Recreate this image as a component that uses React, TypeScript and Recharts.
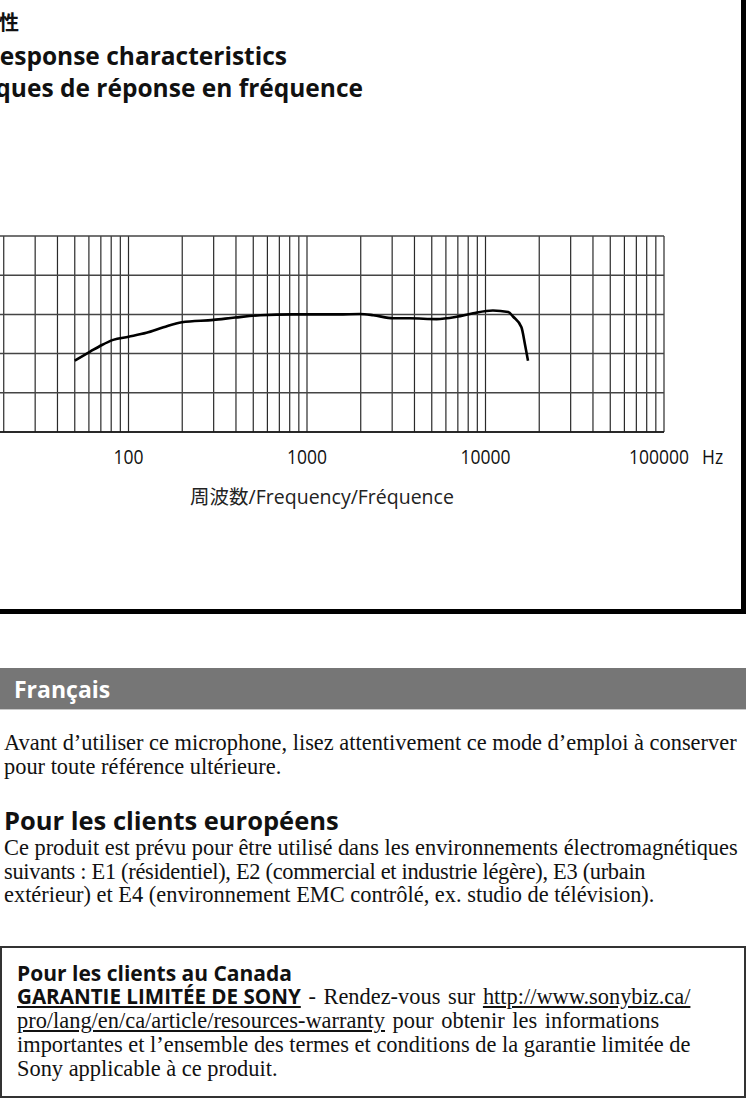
import { CartesianGrid, Label, Line, LineChart, ReferenceLine, XAxis, YAxis } from "recharts";

// frequency response
const freqHz = [
  50, 61, 71, 82, 100, 126, 157, 199, 299, 395, 546, 835, 1000, 1500, 1980,
  2350, 3040, 3770, 5320, 6890, 8530, 11000, 13400, 14300, 15900, 16600, 17300,
];
const levelDb = [
  -11.8, -9.5, -7.8, -6.5, -5.7, -4.7, -3.3, -2.0, -1.4, -0.8, -0.2, 0, 0, 0,
  0.1, -0.2, -1.0, -1.0, -1.2, -0.6, 0.3, 1.0, 0.6, -0.6, -3.3, -7.4, -11.8,
];

// log grid lines
const gridFreqs = [
  10, 20, 30, 40, 50, 60, 70, 80, 90,
  100, 200, 300, 400, 500, 600, 700, 800, 900,
  1000, 2000, 3000, 4000, 5000, 6000, 7000, 8000, 9000,
  10000, 20000, 30000, 40000, 50000, 60000, 70000, 80000, 90000,
  100000,
];
const decadeLabels = [100, 1000, 10000, 100000];
const levelTicks = [-30, -20, -10, 0, 10, 20];

const data = freqHz.map((f, i) => ({ freq: f, level: levelDb[i] }));

const SANS = '"Open Sans", "Noto Sans CJK JP", sans-serif';
const SERIF = '"Liberation Serif", "DejaVu Serif", serif';

function FreqTick({ x, y, payload }: any) {
  if (!decadeLabels.includes(payload.value)) return <g />;
  const last = payload.value === 100000;
  return (
    <g transform={`translate(${x},${y})`}>
      <g transform="scale(1,1.15)">
        <text
          x={last ? -5 : 0}
          y={21}
          textAnchor="middle"
          fontFamily={SANS}
          fontSize={17.5}
          fill="#111"
        >
          {payload.value}
        </text>
        {last && (
          <text x={38} y={21} textAnchor="start" fontFamily={SANS} fontSize={17.5} fill="#111">
            Hz
          </text>
        )}
      </g>
    </g>
  );
}

function FreqTitle({ viewBox }: any) {
  return (
    <text
      x={viewBox.x + viewBox.width / 2 + 15}
      y={viewBox.y + 72}
      textAnchor="middle"
      fontFamily={SANS}
      fontSize={19.5}
      fill="#222"
    >
      周波数/Frequency/Fréquence
    </text>
  );
}

function ResponseChart() {
  return (
    <LineChart
      width={800}
      height={296}
      data={data}
      margin={{ top: 10, right: 76, left: 10, bottom: 0 }}
    >
      <CartesianGrid horizontal={false} stroke="#2a2a2a" strokeWidth={1.2} strokeOpacity={1} />
      <XAxis
        dataKey="freq"
        type="number"
        scale="log"
        domain={[10, 100000]}
        ticks={gridFreqs}
        interval={0}
        allowDataOverflow
        tickLine={false}
        axisLine={{ stroke: "#111", strokeWidth: 1.6 }}
        tick={<FreqTick />}
        height={90}
      >
        <Label content={<FreqTitle />} />
      </XAxis>
      <YAxis
        type="number"
        domain={[-30, 20]}
        ticks={levelTicks}
        interval={0}
        width={0}
        tick={false}
        axisLine={false}
        tickLine={false}
      />
      {levelTicks.map((v) => (
        <ReferenceLine key={v} y={v} stroke="#444" strokeWidth={1.5} />
      ))}
      <Line
        type="monotone"
        dataKey="level"
        stroke="#000"
        strokeWidth={2.6}
        dot={false}
        isAnimationActive={false}
      />
    </LineChart>
  );
}

const line = (top: number, h: number, extra: any = {}) => ({
  position: "absolute" as const,
  top,
  height: h,
  lineHeight: `${h}px`,
  whiteSpace: "nowrap" as const,
  ...extra,
});

export default function App() {
  return (
    <div
      style={{
        position: "absolute",
        left: 0,
        top: 0,
        width: 746,
        height: 1112,
        overflow: "hidden",
        background: "#fff",
        color: "#111",
      }}
    >
      {/* figure frame, left and top edges run off the page */}
      <div
        style={{
          position: "absolute",
          left: -20,
          top: -20,
          width: 766,
          height: 634,
          border: "5px solid #000",
          boxSizing: "border-box",
        }}
      />

      <div style={line(10, 26, { right: 746 - 19, fontFamily: SANS, fontWeight: 700, fontSize: 20 })}>
        周波数特性
      </div>
      <div style={line(40, 32, { right: 746 - 287, fontFamily: SANS, fontWeight: 700, fontSize: 24.5 })}>
        Frequency response characteristics
      </div>
      <div style={line(72, 32, { right: 746 - 363, fontFamily: SANS, fontWeight: 700, fontSize: 24.5 })}>
        Caractéristiques de réponse en fréquence
      </div>

      <div style={{ position: "absolute", left: -60, top: 226 }}>
        <ResponseChart />
      </div>

      {/* Français header bar */}
      <div
        style={{
          position: "absolute",
          left: 0,
          top: 668,
          width: 746,
          height: 42,
          background: "#767676",
          borderBottom: "1px solid #c8c8c8",
          boxSizing: "border-box",
        }}
      />
      <div style={line(668, 42, { left: 14, color: "#fff", fontFamily: SANS, fontWeight: 700, fontSize: 23 })}>
        Français
      </div>

      <div style={{ fontFamily: SERIF, fontSize: 22.4 }}>
        <div style={line(731, 24, { left: 4 })}>
          Avant d’utiliser ce microphone, lisez attentivement ce mode d’emploi à conserver
        </div>
        <div style={line(755, 24, { left: 4 })}>pour toute référence ultérieure.</div>
      </div>

      <div style={line(803, 34, { left: 4, fontFamily: SANS, fontWeight: 700, fontSize: 25.5 })}>
        Pour les clients européens
      </div>

      <div style={{ fontFamily: SERIF, fontSize: 22.4 }}>
        <div style={line(836, 24, { left: 4 })}>
          Ce produit est prévu pour être utilisé dans les environnements électromagnétiques
        </div>
        <div style={line(860, 24, { left: 4, letterSpacing: -0.3 })}>
          suivants : E1 (résidentiel), E2 (commercial et industrie légère), E3 (urbain
        </div>
        <div style={line(883, 24, { left: 4 })}>
          extérieur) et E4 (environnement EMC contrôlé, ex. studio de télévision).
        </div>
      </div>

      {/* Canada box */}
      <div
        style={{
          position: "absolute",
          left: 0,
          top: 946,
          width: 746,
          height: 152,
          border: "2px solid #333",
          boxSizing: "border-box",
        }}
      />
      <div style={line(961, 24, { left: 17, fontFamily: SANS, fontWeight: 700, fontSize: 21 })}>
        Pour les clients au Canada
      </div>
      <div style={{ fontFamily: SERIF, fontSize: 22.4 }}>
        <div style={line(985, 23, { left: 17, wordSpacing: 2 })}>
          <span style={{ fontFamily: SANS, fontWeight: 700, fontSize: 20.6, textDecoration: "underline", wordSpacing: 0 }}>
            GARANTIE LIMITÉE DE SONY
          </span>{" "}
          - Rendez-vous sur <span style={{ textDecoration: "underline" }}>http://www.sonybiz.ca/</span>
        </div>
        <div style={line(1009, 23, { left: 17, wordSpacing: 2 })}>
          <span style={{ textDecoration: "underline" }}>pro/lang/en/ca/article/resources-warranty</span> pour
          obtenir les informations
        </div>
        <div style={line(1033, 23, { left: 17 })}>
          importantes et l’ensemble des termes et conditions de la garantie limitée de
        </div>
        <div style={line(1057, 23, { left: 17 })}>Sony applicable à ce produit.</div>
      </div>
    </div>
  );
}
